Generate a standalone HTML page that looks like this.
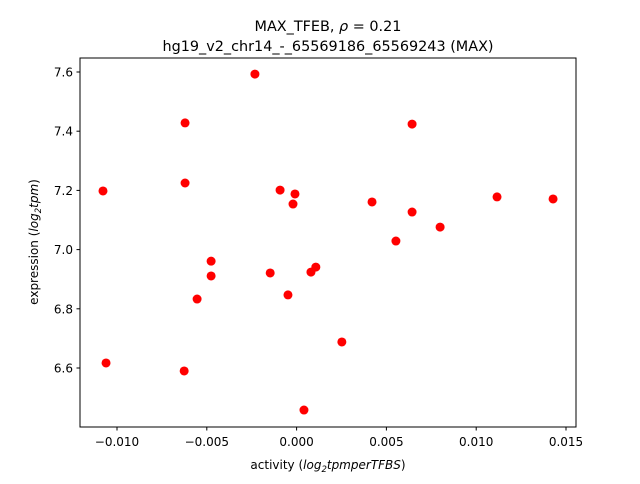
<!DOCTYPE html>
<html><head><meta charset="utf-8"><style>
body{margin:0;background:#fff;font-family:"DejaVu Sans","Liberation Sans",sans-serif}
svg text{font-family:"DejaVu Sans","Liberation Sans",sans-serif;fill:#000}
</style></head><body>
<svg id="chart" width="640" height="480" xmlns="http://www.w3.org/2000/svg">
<rect width="640" height="480" fill="#fff"/>
<text x="328" y="31" font-size="14.4" text-anchor="middle">MAX_TFEB, <tspan font-style="italic">ρ</tspan> = 0.21</text>
<text x="328" y="51" font-size="14.4" text-anchor="middle">hg19_v2_chr14_-_65569186_65569243 (MAX)</text>
<text x="328" y="469" font-size="12" text-anchor="middle">activity (<tspan font-style="italic">log</tspan><tspan font-size="8.5" dy="3" font-style="italic">2</tspan><tspan dy="-3" font-style="italic">tpmperTFBS</tspan>)</text>
<text transform="translate(38,242) rotate(-90)" font-size="12" text-anchor="middle">expression (<tspan font-style="italic">log</tspan><tspan font-size="8.5" dy="3" font-style="italic">2</tspan><tspan dy="-3" font-style="italic">tpm</tspan>)</text>
<g id="ticks"></g>
<g id="points"></g>
<rect x="80" y="58" width="496" height="369" fill="none" stroke="#000" stroke-width="1"/>
</svg>
<script>
const xTicks=[-0.010,-0.005,0.000,0.005,0.010,0.015];
const xTickLabels=["−0.010","−0.005","0.000","0.005","0.010","0.015"];
const yTicks=[6.6,6.8,7.0,7.2,7.4,7.6];
const yTickLabels=["6.6","6.8","7.0","7.2","7.4","7.6"];
const activity=[-0.01078,-0.01061,-0.00232,-0.00621,-0.00621,-0.00626,-0.00476,-0.00476,-0.00554,-0.00147,-0.00092,-0.00048,-0.00020,-0.00009,0.00041,0.00080,0.00107,0.00252,0.00420,0.00553,0.00643,0.00643,0.00799,0.01116,0.01428];
const expression=[7.198,6.617,7.593,7.428,7.225,6.590,6.961,6.911,6.833,6.921,7.201,6.847,7.154,7.188,6.458,6.924,6.941,6.688,7.161,7.029,7.424,7.127,7.076,7.178,7.171];
const NS="http://www.w3.org/2000/svg";
const xs=v=>296.6+v*17960;
const ys=v=>72+(7.6-v)*296;
const tg=document.getElementById('ticks');
xTicks.forEach((t,i)=>{
 const l=document.createElementNS(NS,'line');
 
 
 l.setAttribute('x1',xs(t));l.setAttribute('x2',xs(t));l.setAttribute('y1',427);l.setAttribute('y2',430.5);l.setAttribute('stroke','#000');
 tg.appendChild(l);
 const tx=document.createElementNS(NS,'text');
 
 
 tx.setAttribute('x',xs(t));tx.setAttribute('y',446);tx.setAttribute('font-size','12');tx.setAttribute('text-anchor','middle');
 tx.textContent=xTickLabels[i];tg.appendChild(tx);
});
yTicks.forEach((t,i)=>{
 const l=document.createElementNS(NS,'line');
 
 
 l.setAttribute('x1',76.5);l.setAttribute('x2',80);l.setAttribute('y1',ys(t));l.setAttribute('y2',ys(t));l.setAttribute('stroke','#000');
 tg.appendChild(l);
 const tx=document.createElementNS(NS,'text');
 
 
 tx.setAttribute('x',73);tx.setAttribute('y',ys(t)+4.5);tx.setAttribute('font-size','12');tx.setAttribute('text-anchor','end');
 tx.textContent=yTickLabels[i];tg.appendChild(tx);
});
const pg=document.getElementById('points');
activity.forEach((a,i)=>{
 const c=document.createElementNS(NS,'circle');
 
 
 c.setAttribute('cx',xs(a));c.setAttribute('cy',ys(expression[i]));c.setAttribute('r',4.5);c.setAttribute('fill','#ff0000');
 pg.appendChild(c);
});
</script>
</body></html>
